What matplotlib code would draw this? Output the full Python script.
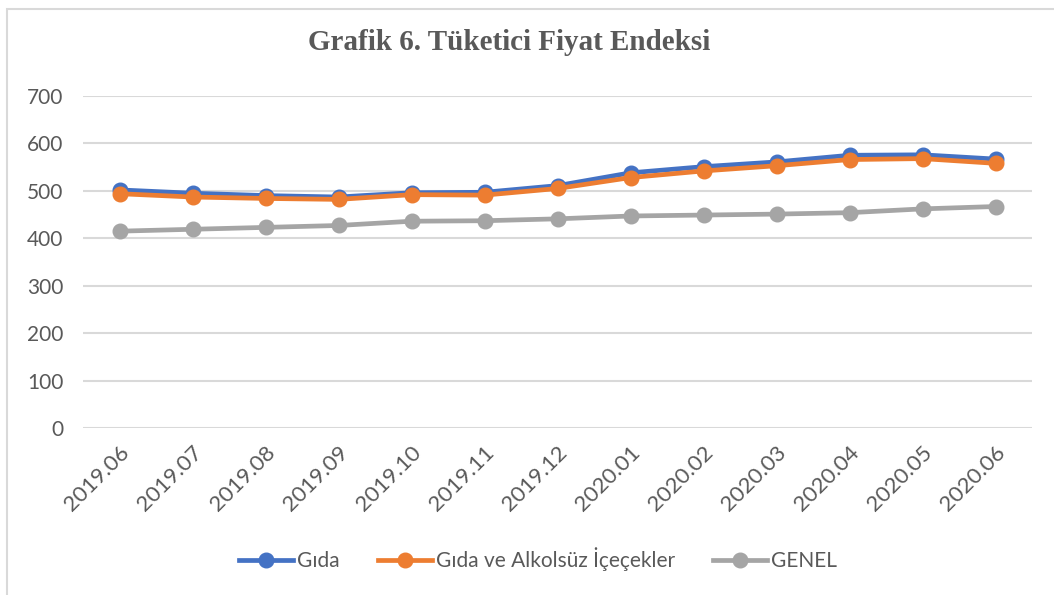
import matplotlib
matplotlib.use("Agg")
import matplotlib.pyplot as plt
from matplotlib.patches import Rectangle
from matplotlib.lines import Line2D
import matplotlib.transforms as mtransforms

categories = ["2019.06", "2019.07", "2019.08", "2019.09", "2019.10", "2019.11", "2019.12",
              "2020.01", "2020.02", "2020.03", "2020.04", "2020.05", "2020.06"]
gida = [502, 495, 490, 487, 496, 497, 511, 538, 551, 561, 575, 576, 567]
gida_alkolsuz = [494, 487, 484, 482, 492, 491, 505, 528, 542, 553, 566, 568, 558]
genel = [415, 419, 423, 427, 436, 437, 441, 447, 449, 451, 454, 462, 467]
yticks = [0, 100, 200, 300, 400, 500, 600, 700]

series_names = ["Gıda", "Gıda ve Alkolsüz İçeçekler", "GENEL"]
colors = ["#4472C4", "#ED7D31", "#A5A5A5"]
text_color = "#595959"
grid_color = "#D9D9D9"

W, H = 1054, 595
fig = plt.figure(figsize=(W / 100, H / 100), dpi=100)
fig.patch.set_facecolor("white")

# outer chart border (only top/left visible in reference)
fig.add_artist(Rectangle((7 / W, -0.05), 1.2, 1 - 9 / H + 0.05, transform=fig.transFigure,
                         fill=False, edgecolor=grid_color, linewidth=1.5))

ax = fig.add_axes([83 / W, 1 - 428 / H, (1032 - 83) / W, (428 - 96) / H])
x = list(range(len(categories)))
for vals, c, name in zip([genel, gida, gida_alkolsuz], [colors[2], colors[0], colors[1]],
                         [series_names[2], series_names[0], series_names[1]]):
    ax.plot(x, vals, color=c, linewidth=3.4, marker="o", markersize=10.5,
            solid_capstyle="round", label=name, zorder=3)

ax.set_xlim(-0.5, len(categories) - 0.5)
ax.set_ylim(0, 700)
ax.set_yticks(yticks)
ax.set_yticklabels([str(v) for v in yticks], fontsize=15, color=text_color, family="Lato")
ax.set_xticks(x)
ax.set_xticklabels(categories, rotation=45, ha="right", va="top", rotation_mode="anchor",
                   fontsize=16, color=text_color, family="Lato")
for lab in ax.get_xticklabels():
    lab.set_transform(lab.get_transform() + mtransforms.ScaledTranslation(12 / 100, -6 / 100, fig.dpi_scale_trans))
ax.tick_params(axis="both", length=0, pad=10)
ax.tick_params(axis="y", pad=14)
ax.grid(axis="y", color=grid_color, linewidth=1.5, zorder=0)
ax.set_axisbelow(True)
for s in ax.spines.values():
    s.set_visible(False)

fig.text(509 / W, 1 - 42 / H, "Grafik 6. Tüketici Fiyat Endeksi", ha="center", va="center",
         fontsize=21, fontweight="bold", color=text_color, family="Liberation Serif")

handles = [Line2D([0], [0], color=c, linewidth=3.4, marker="o", markersize=10.5) for c in colors]
leg = fig.legend(handles, series_names, loc="center", bbox_to_anchor=(538 / W, 1 - 559 / H),
                 ncol=3, frameon=False, handlelength=2.6, handletextpad=0.2, columnspacing=1.8,
                 prop={"family": "Lato", "size": 15})
for t in leg.get_texts():
    t.set_color(text_color)

fig.savefig("out.png", dpi=100, facecolor="white")
